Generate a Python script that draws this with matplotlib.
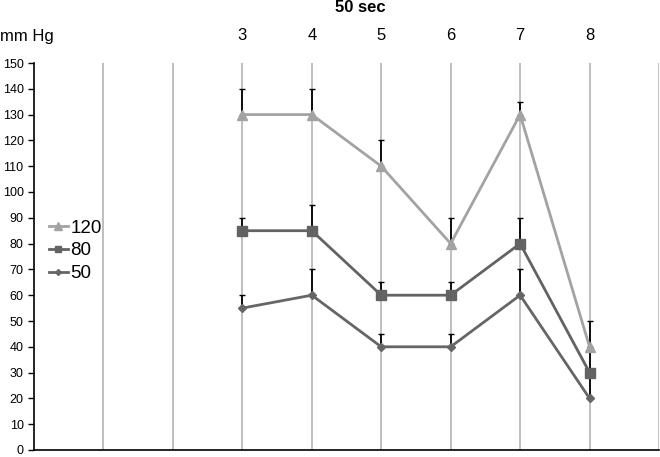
import matplotlib.pyplot as plt
import numpy as np

plt.rcParams['font.family'] = ['Liberation Sans', 'DejaVu Sans']

# data
x_pos = [3, 4, 5, 6, 7, 8]
top_labels = ['3', '4', '5', '6', '7', '8']
s120 = [130, 130, 110, 80, 130, 40]
s80 = [85, 85, 60, 60, 80, 30]
s50 = [55, 60, 40, 40, 60, 20]
err120 = [10, 10, 10, 10, 5, 10]
err80 = [5, 10, 5, 5, 10, 10]
err50 = [5, 10, 5, 5, 10, 10]

fig = plt.figure(figsize=(6.6, 4.57), dpi=100)
ax = fig.add_axes([34 / 660, 7 / 457, 625 / 660, 387 / 457])

# vertical grid lines
for gx in range(1, 10):
    ax.axvline(gx, color='#b4b4b4', lw=1.2, zorder=0)

series = [
    ('120', s120, err120, '#a3a3a3', '^', 7),
    ('80', s80, err80, '#636363', 's', 6.5),
    ('50', s50, err50, '#666666', 'D', 4),
]
for name, vals, err, col, mk, ms in series:
    ax.errorbar(x_pos, vals, yerr=[np.zeros(len(err)), err], fmt='none',
                ecolor='black', elinewidth=1.3, capsize=2.5, capthick=1, zorder=2)
    ax.plot(x_pos, vals, color=col, lw=2, marker=mk, markersize=ms,
            label=name, zorder=3)

ax.set_xlim(0, 9)
ax.set_ylim(0, 150)
ax.set_yticks(np.arange(0, 151, 10))
ax.set_xticks([])
ax.tick_params(axis='y', labelsize=9, length=4, width=1, color='black')
for side in ['top', 'right']:
    ax.spines[side].set_visible(False)
ax.spines['left'].set_linewidth(1.2)
ax.spines['bottom'].set_linewidth(1.2)

trans = ax.get_xaxis_transform()
for xp, lab in zip(x_pos, top_labels):
    ax.text(xp, 1.07, lab, transform=trans, ha='center', va='center',
            fontsize=12, clip_on=False)

fig.text(0.0, 1 - 37 / 457, 'mm Hg', ha='left', va='center', fontsize=12)
fig.text(360 / 660, 1 - 8 / 457, '50 sec', ha='center', va='center',
         fontsize=12, fontweight='bold')

ax.legend(loc='upper left', bbox_to_anchor=(0.012, 0.615), frameon=False,
          fontsize=13.5, handlelength=1.0, handletextpad=0.15, labelspacing=0.3,
          borderaxespad=0, markerscale=0.75)

fig.savefig('out.png', dpi=100)
